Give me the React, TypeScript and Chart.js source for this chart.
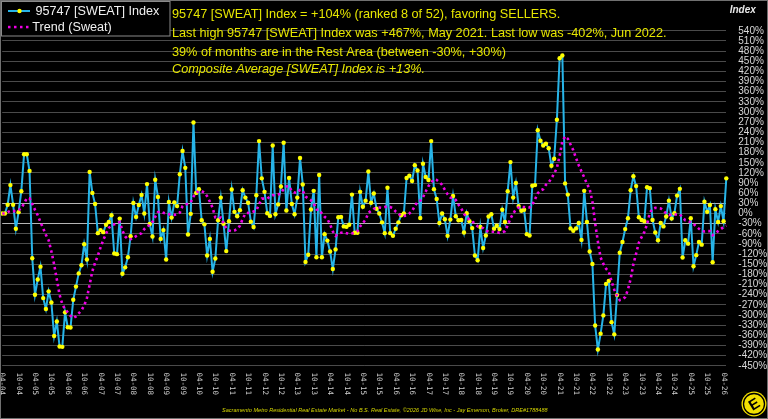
import { useEffect, useRef } from 'react';
import { Chart, registerables } from 'chart.js';

Chart.register(...registerables);

// Monthly series, first month = April 2004
const START_YEAR = 2004;
const START_MONTH = 4;

const sweatIndex = [
  0, 0, 26, 84, 26, -45, 4, 66, 175, 175, 126, -132, -240, -195, -157, -250, -282, -230, -263, -362,
  -319, -393, -394, -292, -336, -337, -255, -216, -177, -153, -91, -136, 123, 61, 28, -58, -49, -55, -33, -25,
  -5, -118, -120, -15, -178, -159, -129, -67, 31, -10, 25, 55, 0, 87, -31, -68, 100, 49, -75, -49,
  -136, 34, -12, 33, 22, 116, 185, 135, -62, -1, 269, 61, 72, -20, -32, -124, -75, -172, -133, -20,
  47, -30, -111, -23, 71, 5, -8, 10, 69, 47, 32, -24, -40, 54, 214, 104, 64, 1, -7, 201,
  -2, 27, 80, 209, 9, 105, 28, -2, 47, 164, 86, -143, -122, 12, 67, -129, 114, -129, -61, -80,
  -112, -164, -106, -11, -10, -38, -39, -33, 56, -57, -57, 64, 20, 38, 124, 32, 59, 14, 0, -26,
  -58, 76, -58, -66, -45, -26, -5, 0, 105, 112, 96, 143, 127, -13, 147, 108, 99, 214, 72, 43,
  -28, 0, -17, -66, -18, 52, -8, -20, -19, -56, 1, -23, -43, -124, -138, -40, -102, -65, -9, -2,
  -45, -36, -46, 11, -25, 66, 152, 47, 90, 22, 8, 11, -61, -65, 82, 84, 246, 215, 201, 206,
  193, 141, 162, 277, 459, 467, 89, 56, -44, -51, -44, -28, -78, 67, -25, -112, -149, -331, -402, -355,
  -301, -208, -199, -321, -357, -241, -116, -84, -46, -14, 69, 110, 81, -11, -19, -23, 78, 75, -19, -56,
  -79, -28, -38, -9, 38, -15, 1, 53, 73, -130, -79, -89, -14, -156, -123, -84, -92, 35, 5, 25,
  -144, 13, -25, 22, -23, 104,
];

const sweatTrend = [
  0, 0, 4, 8, 7, 7, 10, 15, 30, 45, 45, 28, 11, -5, -25, -44, -63, -79, -112, -150,
  -195, -240, -268, -283, -292, -302, -309, -304, -295, -286, -272, -250, -210, -170, -145, -125, -100, -78, -60, -43,
  -35, -32, -29, -25, -50, -68, -76, -76, -72, -67, -62, -58, -46, -38, -34, -25, -10, 4, 6, 2,
  0, -2, -3, -4, -2, 3, 22, 26, 29, 33, 50, 62, 66, 66, 62, 51, 35, 17, -12, -15,
  -12, -28, -44, -50, -52, -50, -46, -36, -16, 0, 2, 3, 6, 9, 27, 44, 44, 44, 50, 54,
  54, 56, 60, 72, 80, 81, 66, 62, 61, 70, 68, 50, 45, 39, 30, 12, 11, 0, -10, -16,
  -32, -53, -66, -60, -57, -56, -58, -60, -59, -56, -52, -38, -28, -18, 2, 8, 14, 17, 18, 17,
  19, 21, 19, 15, 6, 0, -7, -7, -6, 0, 7, 22, 35, 38, 48, 65, 81, 92, 101, 99,
  93, 85, 70, 57, 47, 46, 40, 26, 15, -1, -11, -18, -23, -30, -38, -41, -43, -50, -54, -54,
  -54, -55, -57, -55, -52, -35, -15, 0, 12, 18, 20, 19, 18, 18, 26, 42, 60, 68, 72, 85,
  92, 104, 118, 135, 170, 213, 228, 221, 204, 187, 164, 143, 124, 107, 88, 72, 35, -28, -83, -130,
  -148, -163, -172, -200, -225, -243, -256, -253, -247, -225, -193, -150, -118, -86, -70, -55, -32, 2, 14, 17,
  16, 15, 9, 0, -4, -4, -3, -3, -2, -12, -20, -22, -26, -31, -38, -45, -51, -53, -52, -52,
  -64, -58, -52, -46, -40, -36,
];

const months: string[] = sweatIndex.map((_, i) => {
  const k = START_MONTH - 1 + i;
  const m = (k % 12) + 1;
  const y = (START_YEAR + Math.floor(k / 12)) % 100;
  return `${String(m).padStart(2, '0')}-${String(y).padStart(2, '0')}`;
});

// Axis labels every six months (April and October)
const tickLabels = months.filter((m) => m.startsWith('04-') || m.startsWith('10-'));

const Y_MIN = -450;
const Y_MAX = 540;
const Y_STEP = 30;
const REST_BAND = [-30, 30];

const headline = [
  '95747 [SWEAT] Index = +104% (ranked 8 of 52), favoring SELLERS.',
  'Last high 95747 [SWEAT] Index was +467%, May 2021. Last low was -402%, Jun 2022.',
  '39% of months are in the Rest Area (between -30%, +30%)',
  'Composite Average [SWEAT] Index is +13%.',
];

const legendItems = ['95747 [SWEAT] Index', 'Trend (Sweat)'];
const footer =
  'Sacramento Metro Residential Real Estate Market - No B.S. Real Estate, \u00A92026 JD Wise, Inc - Jay Emerson, Broker, DRE#1788488';

const INDEX_COLOR = '#27b4e8';
const MARKER_COLOR = '#ffff00';
const TREND_COLOR = '#f000e6';
const TEXT_YELLOW = '#e6e600';
const SANS = '"Liberation Sans", Arial, sans-serif';

function fitFont(ctx: CanvasRenderingContext2D, text: string, width: number, style: string) {
  ctx.font = `${style} 10px ${SANS}`;
  const w = ctx.measureText(text).width;
  return (10 * width) / w;
}

const decorPlugin = {
  id: 'decor',
  beforeDraw(chart: Chart) {
    const ctx = chart.ctx;
    ctx.save();
    ctx.fillStyle = '#000';
    ctx.fillRect(0, 0, chart.width, chart.height);
    ctx.restore();
  },
  afterDraw(chart: Chart) {
    const ctx = chart.ctx;
    const xs = chart.scales.x;

    // rotated month labels under the plot
    ctx.save();
    ctx.font = '7.5px "DejaVu Sans Mono", monospace';
    ctx.fillStyle = '#d0d0d0';
    ctx.textAlign = 'left';
    ctx.textBaseline = 'middle';
    months.forEach((m, i) => {
      if (!tickLabels.includes(m)) return;
      const px = xs.getPixelForValue(i);
      ctx.save();
      ctx.translate(px, 372.5);
      ctx.rotate(Math.PI / 2);
      ctx.fillText(m, 0, 0);
      ctx.restore();
    });
    ctx.restore();

    // legend box
    ctx.save();
    ctx.fillStyle = '#000';
    ctx.fillRect(1.5, 1.5, 168.5, 34.5);
    ctx.strokeStyle = '#8a8a8a';
    ctx.lineWidth = 1;
    ctx.strokeRect(1.5, 1.5, 168.5, 34.5);
    ctx.strokeStyle = INDEX_COLOR;
    ctx.lineWidth = 2;
    ctx.beginPath();
    ctx.moveTo(8, 11);
    ctx.lineTo(30, 11);
    ctx.stroke();
    ctx.fillStyle = MARKER_COLOR;
    ctx.beginPath();
    ctx.arc(19.5, 11, 2.2, 0, Math.PI * 2);
    ctx.fill();
    ctx.fillStyle = TREND_COLOR;
    [8, 14, 20, 26].forEach((dx) => ctx.fillRect(dx, 25.8, 2.5, 2.5));
    const lf = fitFont(ctx, legendItems[0], 124, '');
    ctx.font = `${lf}px ${SANS}`;
    ctx.fillStyle = '#f0f0f0';
    ctx.textBaseline = 'middle';
    ctx.fillText(legendItems[0], 35.5, 11.5);
    ctx.fillText(legendItems[1], 32.3, 27.5);
    ctx.restore();

    // headline text
    ctx.save();
    const hf = fitFont(ctx, headline[1], 495, '');
    ctx.fillStyle = TEXT_YELLOW;
    ctx.textBaseline = 'middle';
    const ys = [14, 33, 52.5, 69.5];
    headline.forEach((t, i) => {
      ctx.font = `${i === 3 ? 'italic ' : ''}${hf}px ${SANS}`;
      ctx.fillText(t, 172, ys[i]);
    });
    ctx.restore();

    // axis title
    ctx.save();
    ctx.font = `italic bold 10px ${SANS}`;
    ctx.fillStyle = '#e8e8e8';
    ctx.textAlign = 'center';
    ctx.textBaseline = 'middle';
    ctx.fillText('Index', 742.7, 10.7);
    ctx.restore();

    // footer
    ctx.save();
    const ff = fitFont(ctx, footer, 326, 'italic');
    ctx.font = `italic ${ff}px ${SANS}`;
    ctx.fillStyle = '#d8d800';
    ctx.textBaseline = 'middle';
    ctx.fillText(footer, 222, 410);
    ctx.restore();

    // badge
    ctx.save();
    ctx.translate(754, 404);
    ctx.fillStyle = '#f2e000';
    ctx.beginPath();
    ctx.arc(0, 0, 12.5, 0, Math.PI * 2);
    ctx.fill();
    ctx.strokeStyle = '#000';
    ctx.lineWidth = 1.3;
    ctx.beginPath();
    ctx.arc(0, 0, 10.5, 0, Math.PI * 2);
    ctx.stroke();
    ctx.rotate(-0.55);
    ctx.fillStyle = '#000';
    ctx.font = `bold 15px ${SANS}`;
    ctx.textAlign = 'center';
    ctx.textBaseline = 'middle';
    ctx.fillText('E', 0, 1);
    ctx.restore();

    // outer frame
    ctx.save();
    ctx.strokeStyle = '#707070';
    ctx.lineWidth = 1;
    ctx.strokeRect(0.5, 0.5, chart.width - 1, chart.height - 1);
    ctx.restore();
  },
};

export default function App() {
  const canvasRef = useRef<HTMLCanvasElement | null>(null);

  useEffect(() => {
    document.body.style.margin = '0';
    document.body.style.background = '#000';
    const canvas = canvasRef.current;
    if (!canvas) return;

    const chart = new Chart(canvas, {
      type: 'line',
      data: {
        labels: months,
        datasets: [
          {
            label: legendItems[0],
            data: sweatIndex,
            borderColor: INDEX_COLOR,
            borderWidth: 2,
            pointRadius: 2.2,
            pointBackgroundColor: MARKER_COLOR,
            pointBorderWidth: 0,
            pointHoverRadius: 2.2,
            tension: 0,
            clip: false,
            order: 1,
          },
          {
            label: legendItems[1],
            data: sweatTrend,
            borderColor: TREND_COLOR,
            borderWidth: 2.6,
            borderDash: [2.5, 3.2],
            borderCapStyle: 'butt',
            pointRadius: 0,
            tension: 0,
            clip: false,
            order: 0,
          },
        ],
      },
      options: {
        responsive: false,
        animation: false,
        events: [],
        layout: { padding: { left: 1.7, top: 30.8, right: 0, bottom: 53.2 } },
        plugins: {
          legend: { display: false },
          tooltip: { enabled: false },
          title: { display: false },
        },
        scales: {
          x: {
            type: 'category',
            display: false,
            offset: false,
          },
          y: {
            position: 'right',
            min: Y_MIN,
            max: Y_MAX,
            border: { display: false },
            afterFit(scale: any) {
              scale.width = 41.7;
              scale.paddingTop = 0;
              scale.paddingBottom = 0;
            },
            grid: {
              drawTicks: false,
              tickLength: 0,
              lineWidth: 1,
              color: (c: any) =>
                c.tick && REST_BAND.includes(c.tick.value) ? '#b4b4b4' : '#4a4a4a',
            },
            ticks: {
              stepSize: Y_STEP,
              autoSkip: false,
              padding: 12,
              color: '#d8d8d8',
              font: { family: 'Liberation Sans', size: 10 },
              callback: (v: any) => `${v}%`,
            },
          },
        },
      },
      plugins: [decorPlugin],
    });

    return () => chart.destroy();
  }, []);

  return <canvas ref={canvasRef} width={768} height={419} style={{ display: 'block' }} />;
}
